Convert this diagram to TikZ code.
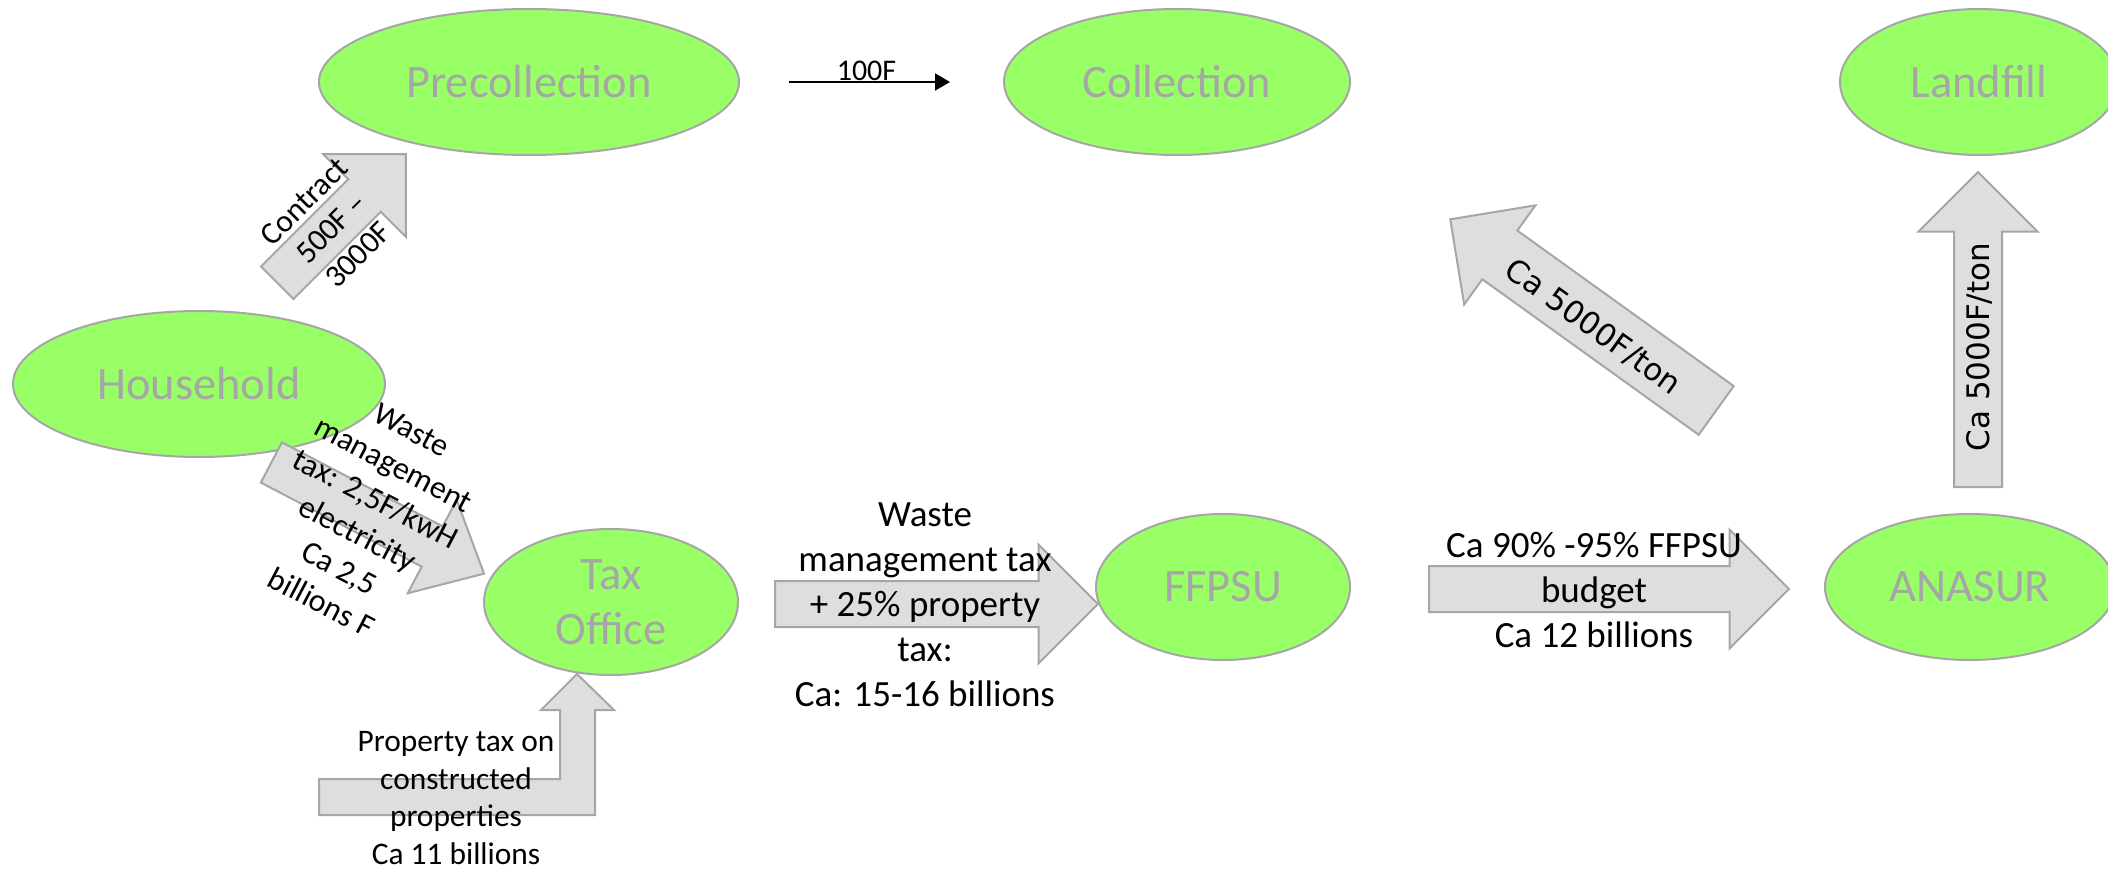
\documentclass[tikz,border=0pt]{standalone}
\usepackage{fontspec}
\setmainfont{Carlito}
\newfontfamily\tonfont{DejaVu Sans}
\usetikzlibrary{shapes.geometric,shapes.arrows,arrows.meta}

\definecolor{nodegreen}{RGB}{153,255,102}
\definecolor{nodegray}{RGB}{166,166,166}
\definecolor{arrowfill}{RGB}{222,222,222}

\begin{document}
\begin{tikzpicture}[x=1pt,y=-1pt,
  main node/.style={ellipse,fill=nodegreen,draw=nodegray,line width=2pt,
    text=nodegray,inner sep=0pt,minimum height=146,align=center,
    font=\fontsize{46.5}{55}\selectfont},
  fat arrow/.style={single arrow,fill=arrowfill,draw=nodegray,
    line width=2pt,inner xsep=0pt,inner ysep=22pt,anchor=tail},
  money/.style={align=center,inner sep=0pt,font=\fontsize{37}{45}\selectfont},
  small money/.style={align=center,inner sep=0pt,font=\fontsize{31.5}{38}\selectfont},
  ton/.style={inner sep=0pt,font=\tonfont\fontsize{31}{37}\selectfont}]

  \useasboundingbox (0,0) rectangle (2108,869);

  % the actors
  \node[main node,minimum width=420] (pre) at (529,82) {Precollection};
  \node[main node,minimum width=346] (col) at (1177,82) {Collection};
  \node[main node,minimum width=278] (land) at (1979,82) {Landfill};
  \node[main node,minimum width=372] (house) at (199,384) {Household};
  \node[main node,minimum width=254] (tax) at (611,602) {Tax\\Office};
  \node[main node,minimum width=254] (fund) at (1223,587) {FFPSU};
  \node[main node,minimum width=290] (ana) at (1970,587) {ANASUR};

  % money flows
  \node[fat arrow,minimum height=182,
    single arrow head extend=35.5,rotate=45] (contract) at (276.5,283.5) {};
  \node[fat arrow,minimum height=240,inner ysep=21.7pt,
    single arrow head extend=30,single arrow tip angle=84,rotate=-27.6]
    (wastetax) at (270.5,462) {};
  \node[fat arrow,minimum height=323,
    single arrow head extend=36.5] (taxflow) at (774,604) {};
  \node[fat arrow,minimum height=360,
    single arrow head extend=36.5] (budget) at (1428,589) {};
  \node[fat arrow,minimum height=315,inner ysep=23pt,
    single arrow head extend=35.5,rotate=90] (landfee) at (1978,488) {};
  \node[fat arrow,minimum height=327.5,inner ysep=29pt,
    single arrow head extend=31,rotate=144.3] (colfee) at (1717,411) {};

  % property tax comes in from below
  \draw[fill=arrowfill,draw=nodegray,line width=2pt]
    (319,779) -- (560,779) -- (560,710) -- (541,710) -- (577,674)
    -- (614,710) -- (595,710) -- (595,815) -- (319,815) -- cycle;

  % labels
  \node[small money,rotate=45] (contractlbl) at (331,228) {Contract\\500F –\\3000F};
  \node[align=center,inner sep=0pt,font=\fontsize{32}{39}\selectfont,rotate=-27.6]
    (wastelbl) at (366.5,516.5)
    {Waste\\management\\tax: 2,5F/kwH\\electricity\\Ca 2,5\\billions F};
  \node[align=center,inner sep=0pt,font=\fontsize{31.4}{37.7}\selectfont]
    (proplbl) at (456,798)
    {Property tax on\\constructed\\properties\\Ca 11 billions};
  \node[money] (taxlbl) at (925,605)
    {Waste\\management tax\\+ 25\% property\\tax:\\Ca: 15-16 billions};
  \node[money] (budgetlbl) at (1594,590)
    {Ca 90\% -95\% FFPSU\\budget\\Ca 12 billions};
  \node[ton,rotate=90] (landlbl) at (1979,347) {Ca 5000F/ton};
  \node[ton,rotate=-35.7] (collbl) at (1593,327) {Ca 5000F/ton};

  % precollectors pay the collectors
  \draw[-{Triangle[length=15pt,width=17pt]},line width=2pt,
    shorten <=49pt,shorten >=53pt] (pre.east) -- (col.west)
    node[midway,above,inner sep=0pt,xshift=-5pt,font=\fontsize{30}{36}\selectfont] {100F};

\end{tikzpicture}
\end{document}
